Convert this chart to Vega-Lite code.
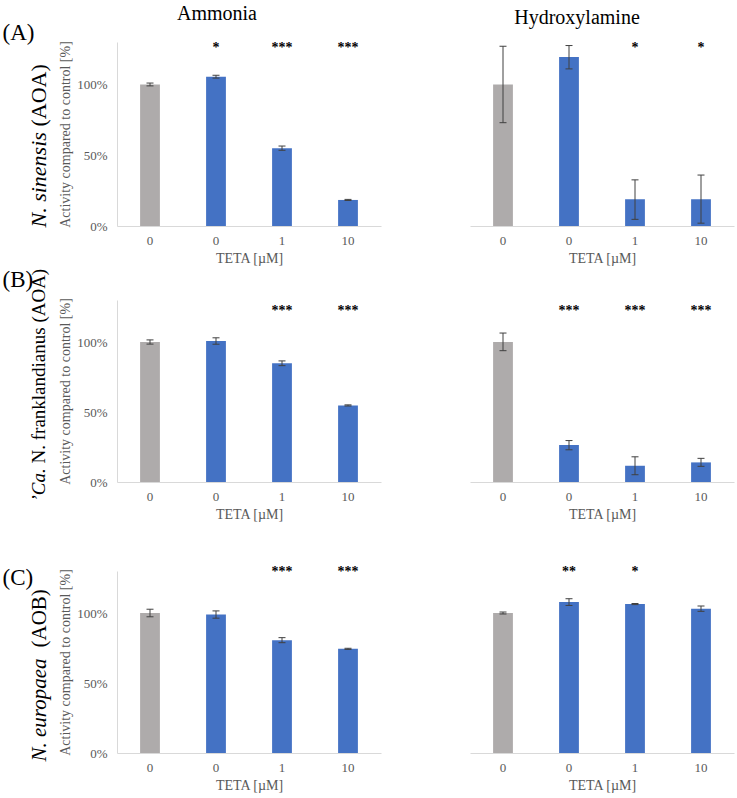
{
  "$schema": "https://vega.github.io/schema/vega-lite/v6.json",
  "padding": {"left": 2, "top": 4, "right": 2, "bottom": 2},
  "background": "white",
  "datasets": {
    "d": [
      {"panel": "A1", "cond": "ctrl", "value": 100, "lo": 99, "hi": 101, "stars": ""},
      {"panel": "A1", "cond": "0", "value": 105.5, "lo": 104.5, "hi": 106.5, "stars": "*"},
      {"panel": "A1", "cond": "1", "value": 55, "lo": 53.5, "hi": 56.5, "stars": "***"},
      {"panel": "A1", "cond": "10", "value": 18.4, "lo": 18, "hi": 18.8, "stars": "***"},
      {"panel": "A2", "cond": "ctrl", "value": 100, "lo": 73, "hi": 127, "stars": ""},
      {"panel": "A2", "cond": "0", "value": 119.4, "lo": 111, "hi": 127.5, "stars": ""},
      {"panel": "A2", "cond": "1", "value": 18.9, "lo": 4.7, "hi": 32.6, "stars": "*"},
      {"panel": "A2", "cond": "10", "value": 18.9, "lo": 2, "hi": 36, "stars": "*"},
      {"panel": "B1", "cond": "ctrl", "value": 100, "lo": 98.5, "hi": 101.5, "stars": ""},
      {"panel": "B1", "cond": "0", "value": 100.7, "lo": 98.4, "hi": 103, "stars": ""},
      {"panel": "B1", "cond": "1", "value": 84.8, "lo": 83.1, "hi": 86.5, "stars": "***"},
      {"panel": "B1", "cond": "10", "value": 54.7, "lo": 54.3, "hi": 55.1, "stars": "***"},
      {"panel": "B2", "cond": "ctrl", "value": 100, "lo": 93.8, "hi": 106.4, "stars": ""},
      {"panel": "B2", "cond": "0", "value": 26.4, "lo": 23, "hi": 29.6, "stars": "***"},
      {"panel": "B2", "cond": "1", "value": 11.6, "lo": 5.2, "hi": 18, "stars": "***"},
      {"panel": "B2", "cond": "10", "value": 14, "lo": 11.2, "hi": 16.9, "stars": "***"},
      {"panel": "C1", "cond": "ctrl", "value": 100, "lo": 97.3, "hi": 102.7, "stars": ""},
      {"panel": "C1", "cond": "0", "value": 98.9, "lo": 96.3, "hi": 101.5, "stars": ""},
      {"panel": "C1", "cond": "1", "value": 80.6, "lo": 78.8, "hi": 82.4, "stars": "***"},
      {"panel": "C1", "cond": "10", "value": 74.4, "lo": 74, "hi": 74.8, "stars": "***"},
      {"panel": "C2", "cond": "ctrl", "value": 100, "lo": 99.3, "hi": 100.7, "stars": ""},
      {"panel": "C2", "cond": "0", "value": 107.8, "lo": 105.4, "hi": 110.2, "stars": "**"},
      {"panel": "C2", "cond": "1", "value": 106.4, "lo": 106, "hi": 106.8, "stars": "*"},
      {"panel": "C2", "cond": "10", "value": 103.1, "lo": 101.2, "hi": 105, "stars": ""}
    ]
  },
  "spacing": 3,
  "vconcat": [
    {
      "hconcat": [
        {
          "width": 264, "height": 184,
          "title": {"text": "Ammonia", "fontSize": 20, "font": "Liberation Serif", "fontWeight": "normal", "color": "black", "anchor": "middle", "frame": "group", "dx": -32, "baseline": "alphabetic", "offset": -19},
          "data": {"name": "d"},
          "transform": [{"filter": "datum.panel == 'A1'"}],
          "encoding": {"x": {"field": "cond", "type": "nominal", "sort": ["ctrl", "0", "1", "10"], "scale": {"paddingInner": 0.7, "paddingOuter": 0.35}, "axis": {"title": "TETA [µM]", "labelExpr": "datum.value == 'ctrl' ? '0' : datum.value", "labelAngle": 0}}},
          "layer": [
            {"mark": {"type": "bar"}, "encoding": {"y": {"field": "value", "type": "quantitative", "scale": {"domain": [0, 130], "nice": false, "zero": true}, "axis": {"orient": "left", "values": [0, 50, 100], "labelExpr": "datum.value + '%'", "title": "Activity compared to control [%]"}}, "color": {"field": "cond", "type": "nominal", "scale": {"domain": ["ctrl", "0", "1", "10"], "range": ["#AEABAB", "#4472C4", "#4472C4", "#4472C4"]}, "legend": null}}},
            {"mark": {"type": "rule", "color": "#404040", "strokeWidth": 1}, "encoding": {"y": {"field": "lo", "type": "quantitative", "scale": {"domain": [0, 130], "nice": false, "zero": true}, "axis": {"orient": "left", "labels": false, "domain": false, "ticks": false, "grid": false, "title": "N. sinensis", "titleX": -72, "titleY": 185, "titleAngle": 270, "titleAlign": "left", "titleBaseline": "alphabetic", "titleFontSize": 22, "titleFontStyle": "italic", "titleColor": "black"}}, "y2": {"field": "hi"}}},
            {"mark": {"type": "tick", "color": "#404040", "size": 7, "thickness": 1, "opacity": 1}, "encoding": {"y": {"field": "lo", "type": "quantitative", "scale": {"domain": [0, 130], "nice": false, "zero": true}, "axis": {"orient": "left", "labels": false, "domain": false, "ticks": false, "grid": false, "title": "(AOA)", "titleX": -72, "titleY": 84, "titleAngle": 270, "titleAlign": "left", "titleBaseline": "alphabetic", "titleFontSize": 22, "titleColor": "black"}}}},
            {"mark": {"type": "tick", "color": "#404040", "size": 7, "thickness": 1, "opacity": 1}, "encoding": {"y": {"field": "hi", "type": "quantitative", "scale": {"domain": [0, 130], "nice": false, "zero": true}, "axis": {"orient": "left", "labels": false, "domain": false, "ticks": false, "grid": false, "title": "(A)", "titleX": -115, "titleY": -3, "titleAngle": 0, "titleAlign": "left", "titleBaseline": "alphabetic", "titleFontSize": 23, "titleColor": "black"}}}},
            {"mark": {"type": "text", "font": "Liberation Serif", "fontSize": 14, "fontWeight": "bold", "color": "black", "baseline": "middle"}, "encoding": {"y": {"datum": 126, "type": "quantitative", "scale": {"domain": [0, 130], "nice": false, "zero": true}, "axis": null}, "text": {"field": "stars"}}}
          ],
          "resolve": {"scale": {"y": "independent"}}
        },
        {
          "width": 264, "height": 184,
          "title": {"text": "Hydroxylamine", "fontSize": 20, "font": "Liberation Serif", "fontWeight": "normal", "color": "black", "anchor": "middle", "frame": "group", "dx": -25, "baseline": "alphabetic", "offset": -3},
          "data": {"name": "d"},
          "transform": [{"filter": "datum.panel == 'A2'"}],
          "encoding": {"x": {"field": "cond", "type": "nominal", "sort": ["ctrl", "0", "1", "10"], "scale": {"paddingInner": 0.7, "paddingOuter": 0.35}, "axis": {"title": "TETA [µM]", "labelExpr": "datum.value == 'ctrl' ? '0' : datum.value", "labelAngle": 0}}},
          "layer": [
            {"mark": {"type": "bar"}, "encoding": {"y": {"field": "value", "type": "quantitative", "scale": {"domain": [0, 130], "nice": false, "zero": true}, "axis": {"orient": "left", "values": [0, 50, 100], "labelExpr": "datum.value + '%'", "title": "Activity compared to control [%]"}}, "color": {"field": "cond", "type": "nominal", "scale": {"domain": ["ctrl", "0", "1", "10"], "range": ["#AEABAB", "#4472C4", "#4472C4", "#4472C4"]}, "legend": null}}},
            {"mark": {"type": "rule", "color": "#404040", "strokeWidth": 1}, "encoding": {"y": {"field": "lo", "type": "quantitative", "scale": {"domain": [0, 130], "nice": false, "zero": true}, "axis": null}, "y2": {"field": "hi"}}},
            {"mark": {"type": "tick", "color": "#404040", "size": 7, "thickness": 1, "opacity": 1}, "encoding": {"y": {"field": "lo", "type": "quantitative", "axis": null}}},
            {"mark": {"type": "tick", "color": "#404040", "size": 7, "thickness": 1, "opacity": 1}, "encoding": {"y": {"field": "hi", "type": "quantitative", "axis": null}}},
            {"mark": {"type": "text", "font": "Liberation Serif", "fontSize": 14, "fontWeight": "bold", "color": "black", "baseline": "middle"}, "encoding": {"y": {"datum": 126, "type": "quantitative", "axis": null}, "text": {"field": "stars"}}}
          ]
        }
      ],
      "spacing": 89,
      "bounds": "flush"
    },
    {
      "spacing": 44,
      "vconcat": [
        {
          "hconcat": [
            {
              "width": 264, "height": 182,
              "data": {"name": "d"},
              "transform": [{"filter": "datum.panel == 'B1'"}],
              "encoding": {"x": {"field": "cond", "type": "nominal", "sort": ["ctrl", "0", "1", "10"], "scale": {"paddingInner": 0.7, "paddingOuter": 0.35}, "axis": {"title": "TETA [µM]", "labelExpr": "datum.value == 'ctrl' ? '0' : datum.value", "labelAngle": 0}}},
              "layer": [
                {"mark": {"type": "bar"}, "encoding": {"y": {"field": "value", "type": "quantitative", "scale": {"domain": [0, 130], "nice": false, "zero": true}, "axis": {"orient": "left", "values": [0, 50, 100], "labelExpr": "datum.value + '%'", "title": "Activity compared to control [%]"}}, "color": {"field": "cond", "type": "nominal", "scale": {"domain": ["ctrl", "0", "1", "10"], "range": ["#AEABAB", "#4472C4", "#4472C4", "#4472C4"]}, "legend": null}}},
                {"mark": {"type": "rule", "color": "#404040", "strokeWidth": 1}, "encoding": {"y": {"field": "lo", "type": "quantitative", "scale": {"domain": [0, 130], "nice": false, "zero": true}, "axis": {"orient": "left", "labels": false, "domain": false, "ticks": false, "grid": false, "title": "’Ca.", "titleX": -73, "titleY": 201, "titleAngle": 270, "titleAlign": "left", "titleBaseline": "alphabetic", "titleFontSize": 19, "titleFontStyle": "italic", "titleColor": "black"}}, "y2": {"field": "hi"}}},
                {"mark": {"type": "tick", "color": "#404040", "size": 7, "thickness": 1, "opacity": 1}, "encoding": {"y": {"field": "lo", "type": "quantitative", "scale": {"domain": [0, 130], "nice": false, "zero": true}, "axis": {"orient": "left", "labels": false, "domain": false, "ticks": false, "grid": false, "title": "N. franklandianus (AOA)", "titleX": -73, "titleY": 163, "titleAngle": 270, "titleAlign": "left", "titleBaseline": "alphabetic", "titleFontSize": 19, "titleColor": "black"}}}},
                {"mark": {"type": "tick", "color": "#404040", "size": 7, "thickness": 1, "opacity": 1}, "encoding": {"y": {"field": "hi", "type": "quantitative", "scale": {"domain": [0, 130], "nice": false, "zero": true}, "axis": {"orient": "left", "labels": false, "domain": false, "ticks": false, "grid": false, "title": "(B)", "titleX": -115, "titleY": -14, "titleAngle": 0, "titleAlign": "left", "titleBaseline": "alphabetic", "titleFontSize": 23, "titleColor": "black"}}}},
                {"mark": {"type": "text", "font": "Liberation Serif", "fontSize": 14, "fontWeight": "bold", "color": "black", "baseline": "middle"}, "encoding": {"y": {"datum": 122, "type": "quantitative", "scale": {"domain": [0, 130], "nice": false, "zero": true}, "axis": null}, "text": {"field": "stars"}}}
              ],
              "resolve": {"scale": {"y": "independent"}}
            },
            {
              "width": 264, "height": 182,
              "data": {"name": "d"},
              "transform": [{"filter": "datum.panel == 'B2'"}],
              "encoding": {"x": {"field": "cond", "type": "nominal", "sort": ["ctrl", "0", "1", "10"], "scale": {"paddingInner": 0.7, "paddingOuter": 0.35}, "axis": {"title": "TETA [µM]", "labelExpr": "datum.value == 'ctrl' ? '0' : datum.value", "labelAngle": 0}}},
              "layer": [
                {"mark": {"type": "bar"}, "encoding": {"y": {"field": "value", "type": "quantitative", "scale": {"domain": [0, 130], "nice": false, "zero": true}, "axis": {"orient": "left", "values": [0, 50, 100], "labelExpr": "datum.value + '%'", "title": "Activity compared to control [%]"}}, "color": {"field": "cond", "type": "nominal", "scale": {"domain": ["ctrl", "0", "1", "10"], "range": ["#AEABAB", "#4472C4", "#4472C4", "#4472C4"]}, "legend": null}}},
                {"mark": {"type": "rule", "color": "#404040", "strokeWidth": 1}, "encoding": {"y": {"field": "lo", "type": "quantitative", "axis": null}, "y2": {"field": "hi"}}},
                {"mark": {"type": "tick", "color": "#404040", "size": 7, "thickness": 1, "opacity": 1}, "encoding": {"y": {"field": "lo", "type": "quantitative", "axis": null}}},
                {"mark": {"type": "tick", "color": "#404040", "size": 7, "thickness": 1, "opacity": 1}, "encoding": {"y": {"field": "hi", "type": "quantitative", "axis": null}}},
                {"mark": {"type": "text", "font": "Liberation Serif", "fontSize": 14, "fontWeight": "bold", "color": "black", "baseline": "middle"}, "encoding": {"y": {"datum": 122, "type": "quantitative", "axis": null}, "text": {"field": "stars"}}}
              ]
            }
          ],
          "spacing": 89,
          "bounds": "flush"
        },
        {
          "hconcat": [
            {
              "width": 264, "height": 182,
              "data": {"name": "d"},
              "transform": [{"filter": "datum.panel == 'C1'"}],
              "encoding": {"x": {"field": "cond", "type": "nominal", "sort": ["ctrl", "0", "1", "10"], "scale": {"paddingInner": 0.7, "paddingOuter": 0.35}, "axis": {"title": "TETA [µM]", "labelExpr": "datum.value == 'ctrl' ? '0' : datum.value", "labelAngle": 0}}},
              "layer": [
                {"mark": {"type": "bar"}, "encoding": {"y": {"field": "value", "type": "quantitative", "scale": {"domain": [0, 130], "nice": false, "zero": true}, "axis": {"orient": "left", "values": [0, 50, 100], "labelExpr": "datum.value + '%'", "title": "Activity compared to control [%]"}}, "color": {"field": "cond", "type": "nominal", "scale": {"domain": ["ctrl", "0", "1", "10"], "range": ["#AEABAB", "#4472C4", "#4472C4", "#4472C4"]}, "legend": null}}},
                {"mark": {"type": "rule", "color": "#404040", "strokeWidth": 1}, "encoding": {"y": {"field": "lo", "type": "quantitative", "scale": {"domain": [0, 130], "nice": false, "zero": true}, "axis": {"orient": "left", "labels": false, "domain": false, "ticks": false, "grid": false, "title": "N. europaea", "titleX": -72, "titleY": 190, "titleAngle": 270, "titleAlign": "left", "titleBaseline": "alphabetic", "titleFontSize": 21, "titleFontStyle": "italic", "titleColor": "black"}}, "y2": {"field": "hi"}}},
                {"mark": {"type": "tick", "color": "#404040", "size": 7, "thickness": 1, "opacity": 1}, "encoding": {"y": {"field": "lo", "type": "quantitative", "scale": {"domain": [0, 130], "nice": false, "zero": true}, "axis": {"orient": "left", "labels": false, "domain": false, "ticks": false, "grid": false, "title": "(AOB)", "titleX": -72, "titleY": 76, "titleAngle": 270, "titleAlign": "left", "titleBaseline": "alphabetic", "titleFontSize": 21, "titleColor": "black"}}}},
                {"mark": {"type": "tick", "color": "#404040", "size": 7, "thickness": 1, "opacity": 1}, "encoding": {"y": {"field": "hi", "type": "quantitative", "scale": {"domain": [0, 130], "nice": false, "zero": true}, "axis": {"orient": "left", "labels": false, "domain": false, "ticks": false, "grid": false, "title": "(C)", "titleX": -115, "titleY": 13, "titleAngle": 0, "titleAlign": "left", "titleBaseline": "alphabetic", "titleFontSize": 23, "titleColor": "black"}}}},
                {"mark": {"type": "text", "font": "Liberation Serif", "fontSize": 14, "fontWeight": "bold", "color": "black", "baseline": "middle"}, "encoding": {"y": {"datum": 129, "type": "quantitative", "scale": {"domain": [0, 130], "nice": false, "zero": true}, "axis": null}, "text": {"field": "stars"}}}
              ],
              "resolve": {"scale": {"y": "independent"}}
            },
            {
              "width": 264, "height": 182,
              "data": {"name": "d"},
              "transform": [{"filter": "datum.panel == 'C2'"}],
              "encoding": {"x": {"field": "cond", "type": "nominal", "sort": ["ctrl", "0", "1", "10"], "scale": {"paddingInner": 0.7, "paddingOuter": 0.35}, "axis": {"title": "TETA [µM]", "labelExpr": "datum.value == 'ctrl' ? '0' : datum.value", "labelAngle": 0}}},
              "layer": [
                {"mark": {"type": "bar"}, "encoding": {"y": {"field": "value", "type": "quantitative", "scale": {"domain": [0, 130], "nice": false, "zero": true}, "axis": {"orient": "left", "values": [0, 50, 100], "labelExpr": "datum.value + '%'", "title": "Activity compared to control [%]"}}, "color": {"field": "cond", "type": "nominal", "scale": {"domain": ["ctrl", "0", "1", "10"], "range": ["#AEABAB", "#4472C4", "#4472C4", "#4472C4"]}, "legend": null}}},
                {"mark": {"type": "rule", "color": "#404040", "strokeWidth": 1}, "encoding": {"y": {"field": "lo", "type": "quantitative", "axis": null}, "y2": {"field": "hi"}}},
                {"mark": {"type": "tick", "color": "#404040", "size": 7, "thickness": 1, "opacity": 1}, "encoding": {"y": {"field": "lo", "type": "quantitative", "axis": null}}},
                {"mark": {"type": "tick", "color": "#404040", "size": 7, "thickness": 1, "opacity": 1}, "encoding": {"y": {"field": "hi", "type": "quantitative", "axis": null}}},
                {"mark": {"type": "text", "font": "Liberation Serif", "fontSize": 14, "fontWeight": "bold", "color": "black", "baseline": "middle"}, "encoding": {"y": {"datum": 129, "type": "quantitative", "axis": null}, "text": {"field": "stars"}}}
              ]
            }
          ],
          "spacing": 89,
          "bounds": "flush"
        }
      ]
    }
  ],
  "config": {
    "view": {"stroke": null},
    "font": "Liberation Serif",
    "axis": {
      "ticks": false, "tickSize": 0, "grid": false,
      "domainColor": "#D9D9D9", "domainWidth": 1,
      "labelFont": "Liberation Serif", "titleFont": "Liberation Serif",
      "labelFontSize": 13, "titleFontSize": 14,
      "labelColor": "#595959", "titleColor": "#595959",
      "titleFontWeight": "normal"
    },
    "axisX": {"labelPadding": 8, "titlePadding": 4},
    "axisY": {"labelPadding": 10, "titlePadding": 4}
  }
}
